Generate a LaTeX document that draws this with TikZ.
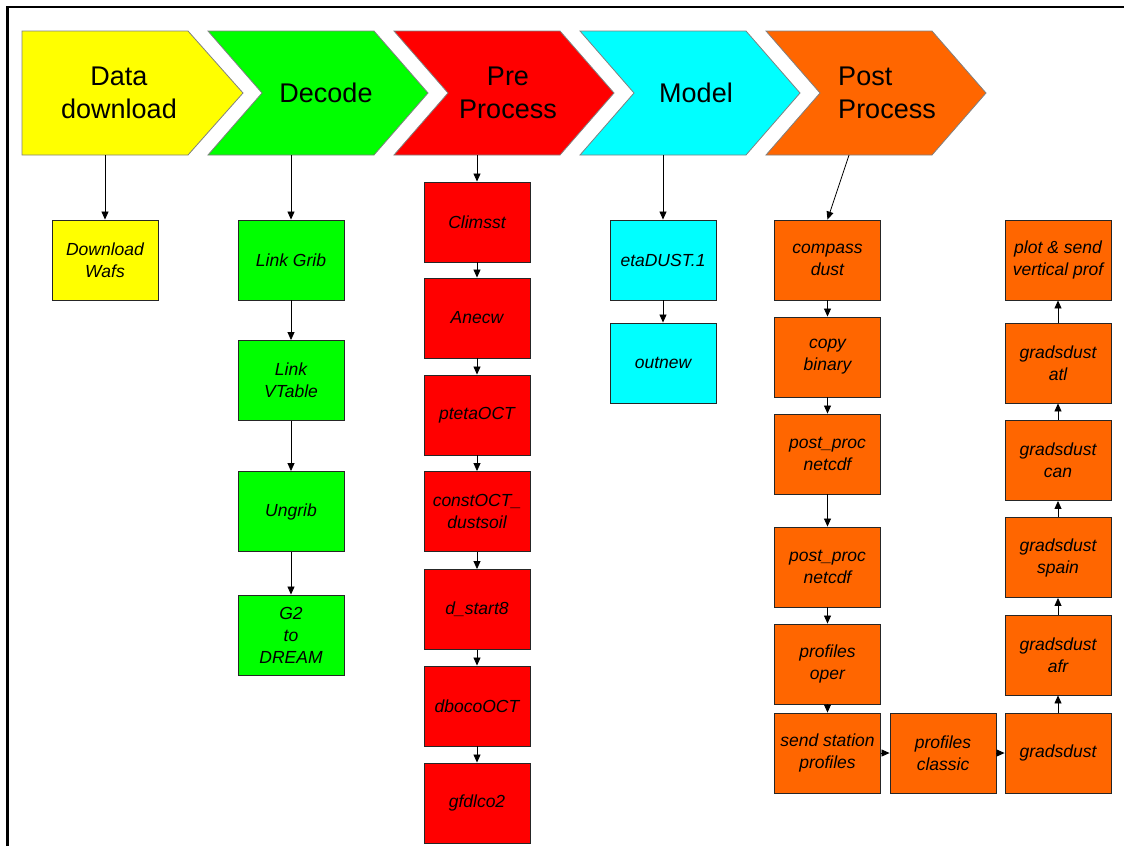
\documentclass[tikz,border=0pt]{standalone}
\usepackage{fontspec}
\setmainfont{Liberation Sans}
\usetikzlibrary{positioning,arrows.meta}

\definecolor{dyellow}{HTML}{FFFF00}
\definecolor{dgreen}{HTML}{00FF00}
\definecolor{dred}{HTML}{FF0000}
\definecolor{dcyan}{HTML}{00FFFF}
\definecolor{dorange}{HTML}{FF6600}

\tikzset{
  stage/.style={draw=black!50, line width=0.8pt},
  stagetext/.style={font=\fontsize{27}{33}\selectfont, align=center},
  task/.style={draw=black!85, line width=0.9pt, minimum width=106pt, minimum height=80pt,
    inner sep=0pt, align=center, font=\fontsize{17.5}{22}\selectfont\itshape},
  flow/.style={-{Triangle[length=8pt,width=7pt]}, line width=0.8pt}
}

\begin{document}
\begin{tikzpicture}[x=1pt,y=-1pt]
    \useasboundingbox (0,0) rectangle (1124,846);

    % Frame
    \draw[line width=2.5pt] (7.5,846) -- (7.5,7) -- (1124,7);

    % Stage arrows
    \draw[stage, fill=dyellow] (22,31) -- (188,31) -- (243,93) -- (188,155) -- (22,155) -- cycle;
    \foreach \x/\c in {208/dgreen, 394/dred, 580/dcyan, 766/dorange} {
      \draw[stage, fill=\c] (\x,31) -- ++(166,0) -- ++(54,62) -- ++(-54,62) -- ++(-166,0) -- ++(54,-62) -- cycle;
    }

    % Stage titles
    \node[stagetext] (data) at (119,93) {Data\\download};
    \node[stagetext] (decode) at (326,93) {Decode};
    \node[stagetext] (pre) at (508,93) {Pre\\Process};
    \node[stagetext] (model) at (696,93) {Model};
    \node[stagetext, align=left] (post) at (887,93) {Post\\Process};

    % Start points below the stages
    \foreach \n/\x in {dataB/105, decodeB/291, preB/477, modelB/663, postB/849} {
      \coordinate (\n) at (\x,155);
    }

    % Data download
    \node[task, fill=dyellow] (wafs) at (105,260) {Download\\Wafs};

    % Decode
    \foreach \n/\y/\t in {grib/260/{Link Grib}, vtable/380.5/{Link\\VTable}, ungrib/511.5/Ungrib, gtwo/635/{G2\\to\\DREAM}} {
      \node[task, fill=dgreen] (\n) at (291,\y) {\t};
    }

    % Pre process
    \foreach \n/\y/\t in {climsst/222/Climsst, anecw/318/Anecw, pteta/415/ptetaOCT, const/511.5/{constOCT\_\\dustsoil},
                          dstart/609.5/{d\_start8}, dboco/706/dbocoOCT, gfdl/803/gfdlco2} {
      \node[task, fill=dred] (\n) at (477,\y) {\t};
    }

    % Model
    \node[task, fill=dcyan] (eta) at (663,260) {etaDUST.1};
    \node[task, fill=dcyan] (outnew) at (663,363) {outnew};

    % Post process
    \foreach \n/\x/\y/\t in {compass/827.5/260/{compass\\dust}, copy/827.5/357/{copy\\binary},
                             netA/827.5/454/{post\_proc\\netcdf}, netB/827.5/567/{post\_proc\\netcdf},
                             oper/827.5/664/{profiles\\oper}, station/827.5/753/{send station\\profiles},
                             classic/943/753/{profiles\\classic}, grads/1058/753/gradsdust,
                             afr/1058/655/{gradsdust\\afr}, spain/1058/557.5/{gradsdust\\spain},
                             can/1058/460.5/{gradsdust\\can}, atl/1058/363/{gradsdust\\atl},
                             vprof/1058/260/{plot \& send\\vertical prof}} {
      \node[task, fill=dorange] (\n) at (\x,\y) {\t};
    }

    % Connectors
    \draw[flow] (dataB) -- (wafs);
    \draw[flow] (decodeB) -- (grib);
    \draw[flow] (preB) -- (climsst);
    \draw[flow] (modelB) -- (eta);
    \draw[flow] (postB) -- (compass.north);
    \foreach \a/\b in {grib/vtable, vtable/ungrib, ungrib/gtwo,
                       climsst/anecw, anecw/pteta, pteta/const, const/dstart, dstart/dboco, dboco/gfdl,
                       eta/outnew,
                       compass/copy, copy/netA, netA/netB, netB/oper, oper/station, station/classic, classic/grads,
                       grads/afr, afr/spain, spain/can, can/atl, atl/vprof} {
      \draw[flow] (\a) -- (\b);
    }

\end{tikzpicture}
\end{document}
